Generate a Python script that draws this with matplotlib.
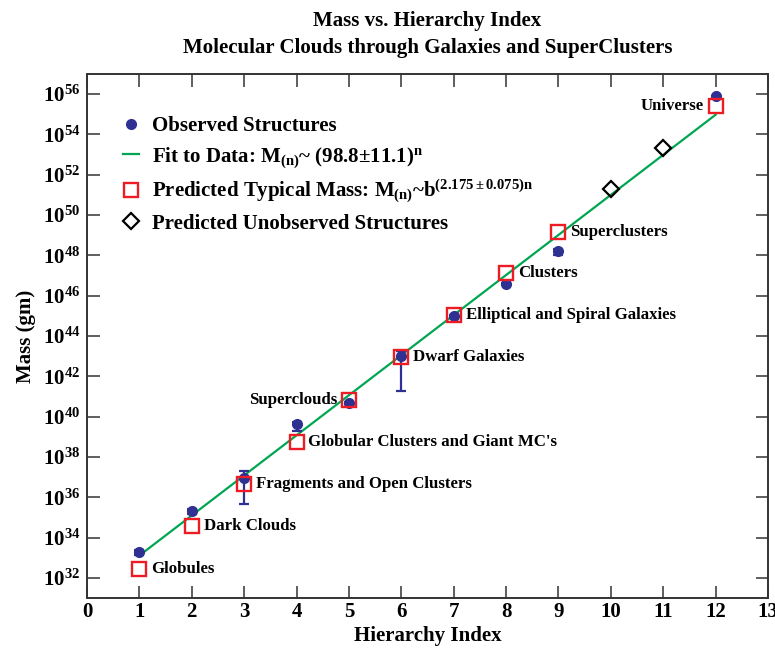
import numpy as np
import matplotlib
matplotlib.use("Agg")
import matplotlib.pyplot as plt
from matplotlib.ticker import FixedLocator, FuncFormatter
from matplotlib.lines import Line2D

# ---------------------------------------------------------------------------
# data (log10 of mass in grams)
# ---------------------------------------------------------------------------
obs_n = [1, 2, 3, 4, 5, 6, 7, 8, 9, 12]
obs_logm = [33.27, 35.32, 36.93, 39.61, 40.67, 43.03, 44.98, 46.59, 48.24, 55.89]
obs_err_lo = [0.16, 0.16, 1.26, 0.30, 0.05, 1.77, 0.05, 0.05, 0.22, 0.0]
obs_err_hi = [0.12, 0.12, 0.36, 0.12, 0.05, 0.25, 0.05, 0.05, 0.10, 0.0]

pred_n = [1, 2, 3, 4, 5, 6, 7, 8, 9, 12]
pred_logm = [32.45, 34.56, 36.66, 38.73, 40.83, 42.95, 45.02, 47.12, 49.15, 55.39]

unobs_n = [10, 11]
unobs_logm = [51.27, 53.32]

fit_n = [1, 12]
fit_logm = [33.11, 54.98]

labels = ["Globules", "Dark Clouds", "Fragments and Open Clusters",
          "Globular Clusters and Giant MC's", "Superclouds", "Dwarf Galaxies",
          "Elliptical and Spiral Galaxies", "Clusters", "Superclusters", "Universe"]
label_side = ["r", "r", "r", "r", "l", "r", "r", "r", "r", "l"]

# ---------------------------------------------------------------------------
plt.rcParams['font.family'] = ['Liberation Serif', 'DejaVu Serif']
plt.rcParams['font.weight'] = 'bold'
plt.rcParams['mathtext.fontset'] = 'custom'
plt.rcParams['mathtext.rm'] = 'Liberation Serif:bold'
plt.rcParams['mathtext.bf'] = 'Liberation Serif:bold'
plt.rcParams['mathtext.it'] = 'Liberation Serif:bold'
plt.rcParams['mathtext.default'] = 'bf'

BLUE = '#2E3192'
RED = '#ED1C24'
GREEN = '#00A651'

fig = plt.figure(figsize=(7.75, 6.51), dpi=100)
ax = fig.add_axes([0.1123, 0.0814, 0.8787, 0.8049])

to_m = lambda v: 10.0 ** np.asarray(v)

ax.plot(fit_n, to_m(fit_logm), color=GREEN, lw=1.6, zorder=2)

obs_m = to_m(obs_logm)
yerr = [obs_m - to_m(np.array(obs_logm) - np.array(obs_err_lo)),
        to_m(np.array(obs_logm) + np.array(obs_err_hi)) - obs_m]
ax.errorbar(obs_n, obs_m, yerr=yerr, fmt='o', color=BLUE, ms=7,
            elinewidth=1.6, capsize=3.8, capthick=1.6, zorder=3)
ax.plot(pred_n, to_m(pred_logm), 's', ms=9.5, mfc='none', mec=RED, mew=1.7, zorder=4)
ax.plot(unobs_n, to_m(unobs_logm), 'D', ms=8.5, mfc='none', mec='black', mew=1.6, zorder=4)

for n, lm, txt, side in zip(pred_n, pred_logm, labels, label_side):
    if side == "r":
        ax.annotate(txt, (n, 10 ** lm), xytext=(8.5, 0), textcoords='offset points',
                    ha='left', va='center', fontsize=12.1, fontweight='bold')
    else:
        ax.annotate(txt, (n, 10 ** lm), xytext=(-8.5, 0), textcoords='offset points',
                    ha='right', va='center', fontsize=12.1, fontweight='bold')

ax.set_yscale('log')
ax.set_xlim(0, 13)
ax.set_ylim(1e31, 1e57)
ax.xaxis.set_major_locator(FixedLocator(range(0, 14)))
ax.yaxis.set_major_locator(FixedLocator(10.0 ** np.arange(32, 57, 2)))
ax.yaxis.set_minor_locator(FixedLocator([]))
ax.yaxis.set_major_formatter(FuncFormatter(lambda v, p: r'$10^{%d}$' % round(np.log10(v))))
ax.tick_params(which='major', direction='in', length=9, width=1.1, top=True, right=True,
               labelsize=15, pad=5, color='#333333')
ax.tick_params(axis='x', pad=3)
for s in ax.spines.values():
    s.set_linewidth(1.4)
    s.set_color('#333333')

ax.set_xlabel('Hierarchy Index', fontsize=15, fontweight='bold', labelpad=3)
ax.set_ylabel('Mass (gm)', fontsize=15, fontweight='bold', labelpad=5)
ax.set_title('Mass vs. Hierarchy Index\nMolecular Clouds through Galaxies and SuperClusters',
             fontsize=15, fontweight='bold', linespacing=1.45, pad=15)

handles = [
    Line2D([], [], ls='none', marker='o', color=BLUE, ms=7),
    Line2D([], [], color=GREEN, lw=1.6),
    Line2D([], [], ls='none', marker='s', ms=9.5, mfc='none', mec=RED, mew=1.7),
    Line2D([], [], ls='none', marker='D', ms=8.5, mfc='none', mec='black', mew=1.6),
]
leg_labels = [
    'Observed Structures',
    r'Fit to Data: M$_{(n)}$~ (98.8$\pm$11.1)$^{n}$',
    r'Predicted Typical Mass: M$_{(n)}$~b$^{(2.175\pm0.075)n}$',
    'Predicted Unobserved Structures',
]
ax.legend(handles, leg_labels, loc='upper left', bbox_to_anchor=(0.04, 0.935),
          frameon=False, fontsize=15, handlelength=0.8, handletextpad=0.6,
          labelspacing=0.4, borderaxespad=0)

fig.savefig('out.png', dpi=100)
